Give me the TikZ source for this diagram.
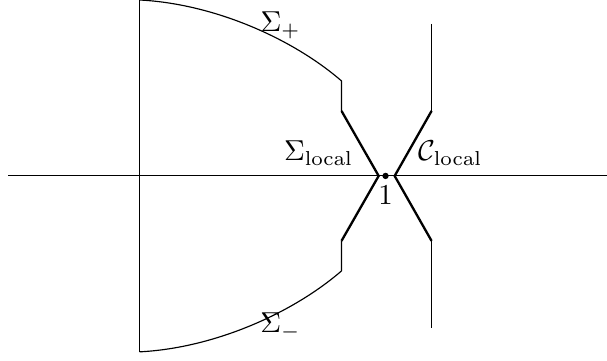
\documentclass[tikz,border=0pt]{standalone}
\usepackage{amsmath}

\begin{document}
\begin{tikzpicture}[x=3cm, y=3cm, thin]

  % 参数：折线与曲线的位置（单位：点 1 到原点的距离）
  \pgfmathsetmacro{\xs}{0.821}  % Σ± 竖段的横坐标
  \pgfmathsetmacro{\hs}{0.386}  % 弧线终点高度
  \pgfmathsetmacro{\hk}{0.264}  % 粗线起点高度
  \pgfmathsetmacro{\xl}{0.972}  % Σ_local 与实轴交点
  \pgfmathsetmacro{\xr}{1.037}  % C_local 与实轴交点
  \pgfmathsetmacro{\xc}{1.187}  % C_local 竖线横坐标
  \pgfmathsetmacro{\hc}{0.618}  % C_local 竖线端点高度

  \useasboundingbox (-0.567,-0.752) rectangle (1.900,0.715);

  % 坐标轴
  \draw (-0.533,0) -- (1.900,0);
  \draw (0,-0.715) -- (0,0.715);

  % ---- Σ 围道 ----

  % 上支 Σ_+
  \draw (0,0.715) .. controls (0.30,0.70) and (0.62,0.56) .. (\xs,\hs) -- (\xs,\hk);

  % 下支 Σ_-
  \draw (0,-0.715) .. controls (0.30,-0.70) and (0.62,-0.56) .. (\xs,-\hs) -- (\xs,-\hk);

  % 局部部分 Σ_local（粗线）
  \draw[thick] (\xs,\hk) -- (\xl,0) -- (\xs,-\hk);

  % ---- C 围道 ----
  \draw (\xc,\hc) -- (\xc,\hk);
  \draw[thick] (\xc,\hk) -- (\xr,0) -- (\xc,-\hk);
  \draw (\xc,-\hk) -- (\xc,-\hc);

  % 点 1
  \fill (1,0) circle (1.1pt) node[below] (one) {$1$};

  % ---- 标注 ----
  \node[anchor=base] (splus) at (0.573,0.585) {$\Sigma_+$};
  \node[anchor=base] (sminus) at (0.573,-0.638) {$\Sigma_-$};
  \node[anchor=base] (sloc) at (0.728,0.061) {$\Sigma_{\mathrm{local}}$};
  \node[anchor=base] (cloc) at (1.264,0.061) {$\mathcal{C}_{\mathrm{local}}$};

\end{tikzpicture}
\end{document}
